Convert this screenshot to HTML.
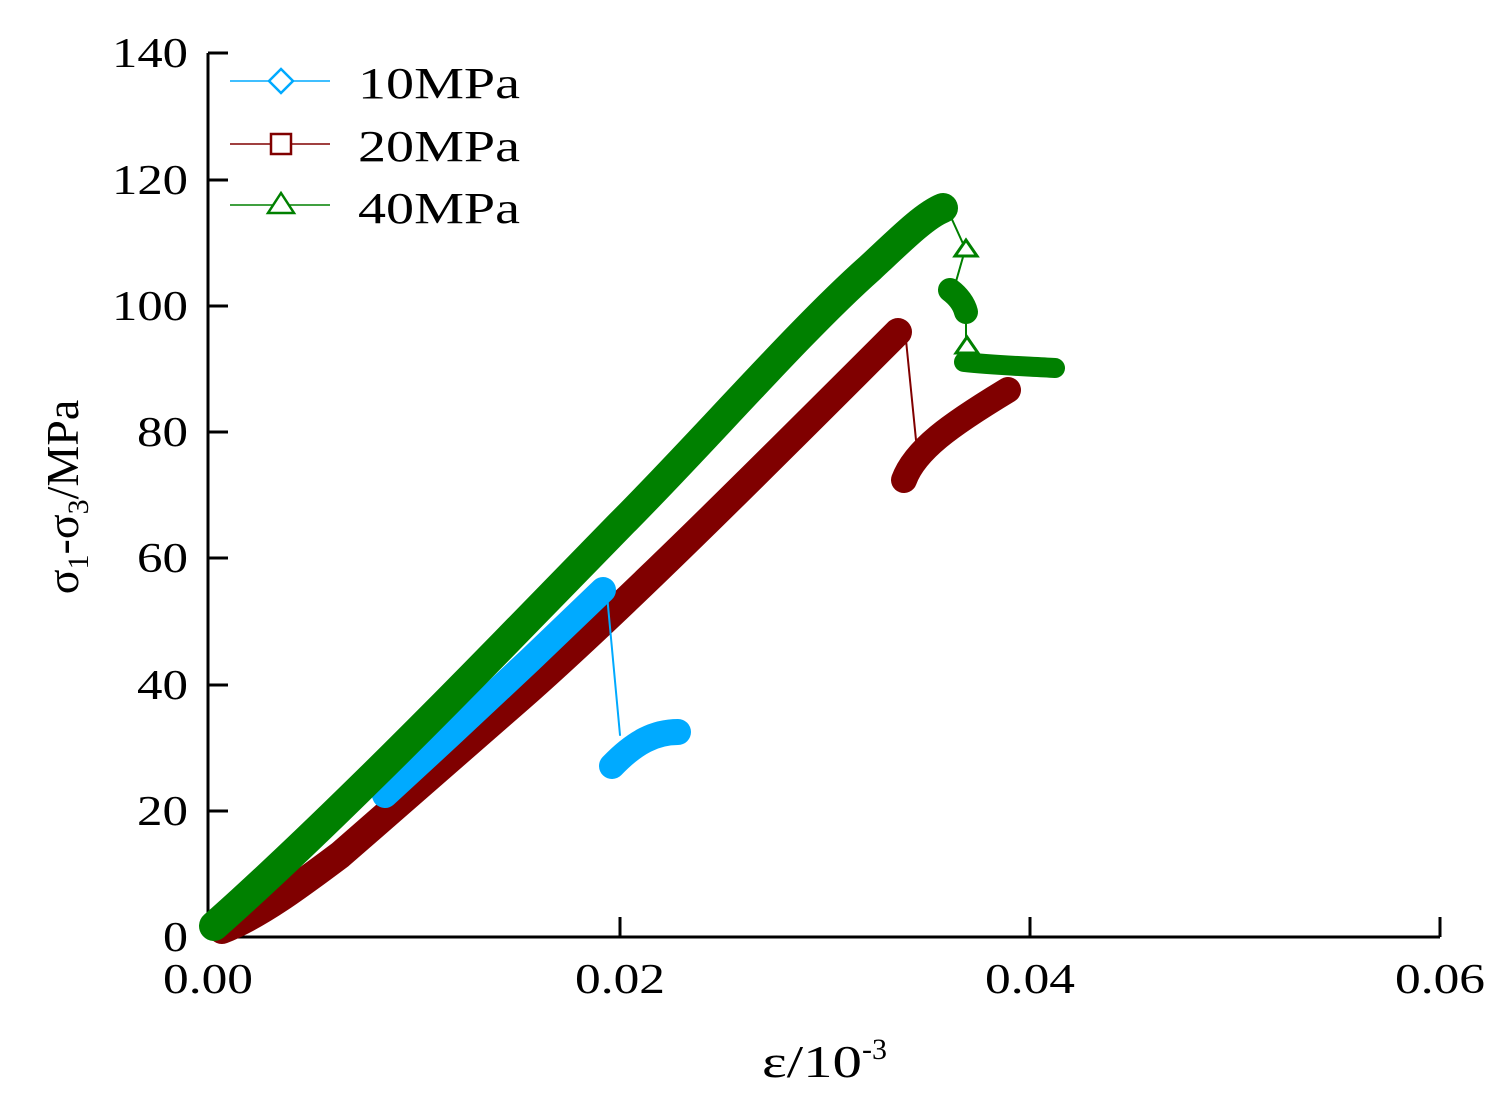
<!DOCTYPE html>
<html><head><style>body{margin:0;background:#fff}</style></head><body>
<svg width="1511" height="1111" viewBox="0 0 1511 1111" xmlns="http://www.w3.org/2000/svg" font-family="Liberation Serif, serif">
<g stroke="#000" stroke-width="3" fill="none">
<path d="M208,53 V937 H1440"/>
<path d="M208,53 h20 M208,180 h20 M208,306 h20 M208,432 h20 M208,558 h20 M208,685 h20 M208,811 h20"/>
<path d="M620,937 v-20 M1030,937 v-20 M1440,937 v-20"/>
</g>
<g font-size="42" text-anchor="end">
<text x="188" y="67" textLength="76" lengthAdjust="spacingAndGlyphs">140</text>
<text x="188" y="194" textLength="76" lengthAdjust="spacingAndGlyphs">120</text>
<text x="188" y="320" textLength="76" lengthAdjust="spacingAndGlyphs">100</text>
<text x="188" y="446" textLength="51" lengthAdjust="spacingAndGlyphs">80</text>
<text x="188" y="572" textLength="51" lengthAdjust="spacingAndGlyphs">60</text>
<text x="188" y="699" textLength="51" lengthAdjust="spacingAndGlyphs">40</text>
<text x="188" y="825" textLength="51" lengthAdjust="spacingAndGlyphs">20</text>
<text x="188" y="951" textLength="25" lengthAdjust="spacingAndGlyphs">0</text>
</g>
<g font-size="42" text-anchor="middle">
<text x="208" y="993" textLength="90" lengthAdjust="spacingAndGlyphs">0.00</text>
<text x="620" y="993" textLength="90" lengthAdjust="spacingAndGlyphs">0.02</text>
<text x="1030" y="993" textLength="90" lengthAdjust="spacingAndGlyphs">0.04</text>
<text x="1440" y="993" textLength="90" lengthAdjust="spacingAndGlyphs">0.06</text>
</g>
<text x="762" y="1077" font-size="46" textLength="100" lengthAdjust="spacingAndGlyphs">ε/10</text>
<text x="862" y="1059" font-size="30">-3</text>
<text transform="translate(78,497) rotate(-90)" font-size="46" text-anchor="middle">σ<tspan dy="10" font-size="30">1</tspan><tspan dy="-10">-σ</tspan><tspan dy="10" font-size="30">3</tspan><tspan dy="-10">/MPa</tspan></text>
<g fill="none" stroke-linejoin="round" stroke-linecap="round">
<path stroke="#800000" stroke-width="28" d="M222,930 C260,915 300,885 340,855 L520,698 C620,610 760,470 898,332"/>
<line stroke="#800000" stroke-width="2" x1="905" y1="330" x2="916" y2="440"/>
<path stroke="#800000" stroke-width="26" d="M904,480 C915,450 950,425 1008,390"/>
<polyline stroke="#00aaff" stroke-width="26" points="385,795 450,735 530,660 603,590"/>
<line stroke="#00aaff" stroke-width="2" x1="607" y1="595" x2="620" y2="735"/>
<path stroke="#00aaff" stroke-width="26" d="M612,766 C635,742 655,732 678,732"/>
<path stroke="#008000" stroke-width="30" d="M214,926 C300,850 420,730 500,648 L620,525 C700,445 800,330 870,268 C900,240 925,215 943,208"/>
<line stroke="#008000" stroke-width="2" x1="950" y1="215" x2="965" y2="248"/>
<line stroke="#008000" stroke-width="2" x1="965" y1="250" x2="955" y2="285"/>
<line stroke="#008000" stroke-width="2" x1="966" y1="310" x2="966" y2="345"/>
<path stroke="#008000" stroke-width="24" d="M950,290 C958,296 964,304 966,312"/>
<path stroke="#008000" stroke-width="20" d="M964,362 C990,365 1020,366 1055,368"/>
</g>
<g fill="#fff" stroke="#008000" stroke-width="3">
<polygon points="966,240 955,256 977,256"/>
<polygon points="967,337 956,353 978,353"/>
</g>
<g stroke-width="1.5">
<line x1="230" y1="81" x2="330" y2="81" stroke="#00aaff"/>
<polygon points="281,69 293,81 281,93 269,81" fill="#fff" stroke="#00aaff" stroke-width="2.5"/>
<line x1="230" y1="144" x2="330" y2="144" stroke="#800000"/>
<rect x="271" y="134" width="20" height="20" fill="#fff" stroke="#800000" stroke-width="2.5"/>
<line x1="230" y1="205" x2="330" y2="205" stroke="#008000"/>
<polygon points="281,193 268,213 294,213" fill="#fff" stroke="#008000" stroke-width="2.5"/>
</g>
<g font-size="44">
<text x="358" y="98" textLength="162" lengthAdjust="spacingAndGlyphs">10MPa</text>
<text x="358" y="161" textLength="162" lengthAdjust="spacingAndGlyphs">20MPa</text>
<text x="358" y="223" textLength="162" lengthAdjust="spacingAndGlyphs">40MPa</text>
</g>
</svg>
</body></html>
